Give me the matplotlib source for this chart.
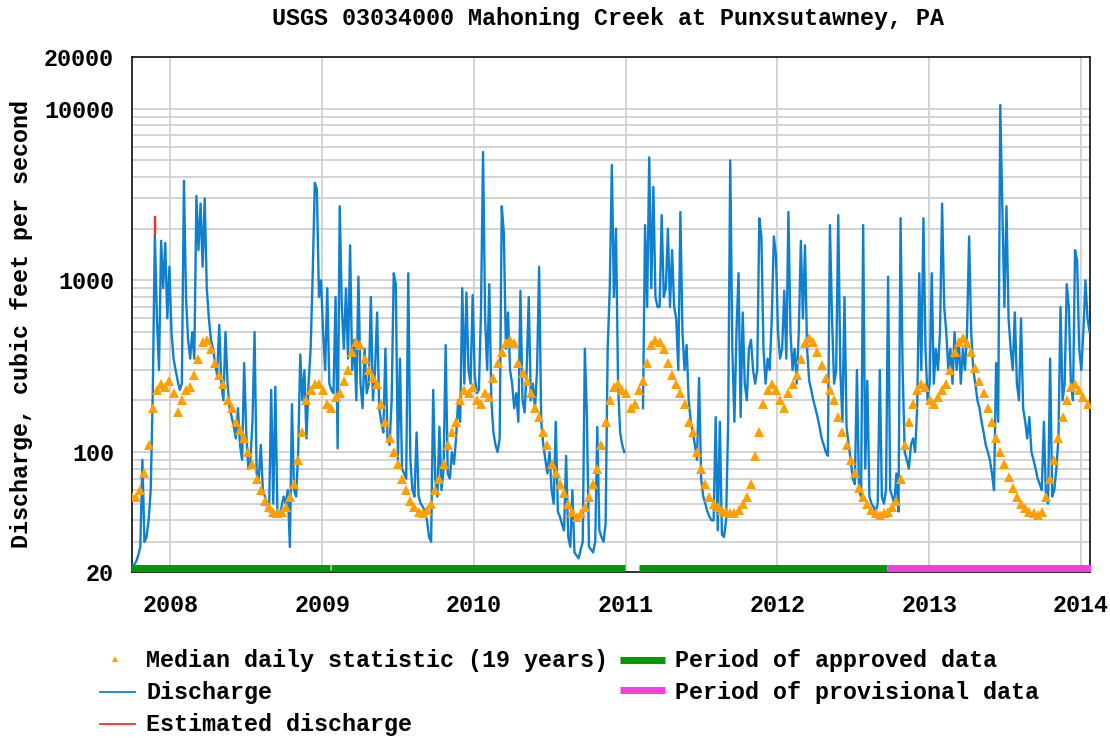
import numpy as np
import pandas as pd
import matplotlib
matplotlib.use('Agg')
import matplotlib.pyplot as plt
import matplotlib.dates as mdates
import matplotlib.ticker as mticker
import matplotlib.transforms as mtrans
from matplotlib.lines import Line2D

plt.rcParams['font.family'] = ['Liberation Mono', 'DejaVu Sans Mono']
plt.rcParams['font.weight'] = 'bold'
FS = 16.8

title = 'USGS 03034000 Mahoning Creek at Punxsutawney, PA'
ylabel = 'Discharge, cubic feet per second'
ytick_vals = [20, 100, 1000, 10000, 20000]

# daily discharge, read every 5 days from 2007-10-01 (nan = no data)
q_start = '2007-10-01'
nan = np.nan
discharge = [
    22, 22, 23, 25, 28, 90, 30, 32, 40, 60,
    220, 1850, 600, 300, 1700, 900, 1650, 600, 1200, 500,
    350, 300, 260, 230, 250, 3800, 800, 450, 350, 500,
    350, 3100, 1500, 2800, 1200, 3000, 900, 600, 450, 400,
    330, 280, 550, 250, 200, 500, 250, 180, 160, 140,
    120, 180, 110, 90, 330, 130, 80, 90, 150, 500,
    75, 70, 110, 60, 55, 50, 45, 230, 50, 240,
    45, 42, 48, 55, 50, 60, 28, 190, 60, 55,
    100, 370, 200, 300, 120, 250, 400, 1100, 3700, 3400,
    800, 1000, 500, 300, 900, 250, 230, 220, 800, 105,
    2700, 700, 400, 900, 350, 1600, 300, 450, 200, 1050,
    250, 180, 400, 220, 250, 800, 200, 300, 650, 180,
    150, 130, 400, 120, 110, 200, 1100, 950, 90, 350,
    80, 75, 70, 1100, 90, 60, 55, 130, 55, 50,
    48, 45, 40, 32, 30, 230, 70, 55, 140, 60,
    80, 420, 75, 70, 100, 85, 120, 200, 150, 900,
    250, 850, 300, 250, 820, 280, 220, 230, 650, 5600,
    600, 300, 950, 200, 130, 110, 100, 120, 2700, 1900,
    400, 650, 300, 250, 180, 220, 150, 870, 200, 170,
    300, 800, 200, 250, 180, 300, 1200, 150, 110, 90,
    75, 100, 60, 50, 150, 45, 42, 38, 35, 95,
    32, 28, 60, 26, 25, 24, 27, 30, 400, 160,
    28, 27, 26, 30, 140, 35, 32, 30, 38, 400,
    900, 4700, 800, 2000, 250, 130, 110, 100, nan, nan,
    nan, nan, nan, nan, nan, nan, 180, 2100, 700, 5200,
    900, 3500, 800, 700, 700, 2400, 800, 900, 2000, 700,
    1500, 700, 600, 300, 2500, 500, 300, 420, 200, 150,
    130, 110, 90, 270, 70, 55, 50, 45, 42, 40,
    40, 160, 35, 150, 33, 32, 40, 150, 5000, 400,
    150, 500, 1100, 160, 650, 250, 200, 400, 450, 300,
    250, 300, 2300, 1800, 400, 250, 350, 300, 600, 1800,
    1400, 500, 350, 400, 870, 350, 2500, 500, 300, 400,
    250, 500, 1700, 600, 1600, 400, 260, 230, 200, 180,
    160, 140, 120, 110, 100, 95, 2100, 600, 250, 300,
    2400, 300, 150, 800, 140, 110, 90, 70, 65, 300,
    60, 55, 2100, 80, 260, 55, 50, 48, 45, 50,
    300, 55, 50, 60, 1050, 60, 55, 50, 75, 45,
    2300, 300, 100, 90, 80, 110, 120, 100, 180, 1100,
    300, 2300, 400, 200, 250, 1100, 250, 400, 300, 500,
    2800, 700, 500, 300, 400, 250, 500, 300, 450, 250,
    400, 300, 500, 1800, 500, 300, 250, 200, 180, 150,
    130, 110, 100, 90, 75, 60, 330, 150, 10500, 2600,
    700, 2700, 600, 400, 300, 650, 250, 200, 600, 180,
    150, 120, 160, 100, 90, 80, 70, 65, 60, 150,
    55, 50, 350, 55, 60, 80, 120, 700, 200, 250,
    950, 700, 250, 200, 1500, 1300, 400, 300, 500, 1000,
    600, 500,
]

# median daily statistic, read every 10 days from 2007-10-01
median = [
    55, 55, 60, 75, 110, 180, 230, 250, 240, 260,
    220, 170, 200, 230, 240, 280, 350, 440, 450, 400,
    330, 280, 250, 200, 180, 150, 135, 120, 100, 85,
    70, 60, 52, 48, 45, 44, 45, 48, 55, 65,
    90, 130, 200, 230, 250, 250, 230, 190, 180, 210,
    220, 260, 300, 380, 440, 420, 350, 300, 270, 250,
    190, 150, 120, 100, 85, 70, 60, 52, 48, 45,
    44, 46, 50, 60, 70, 85, 110, 130, 150, 200,
    230, 220, 240, 200, 190, 220, 210, 270, 330, 380,
    430, 450, 430, 330, 290, 260, 220, 180, 160, 130,
    110, 85, 75, 65, 58, 50, 45, 42, 44, 48,
    55, 65, 80, 110, 150, 200, 240, 250, 230, 220,
    180, 190, 230, 260, 330, 420, 450, 440, 400, 330,
    280, 250, 220, 190, 150, 130, 100, 80, 65, 55,
    50, 48, 46, 45, 44, 44, 46, 50, 55, 65,
    95, 130, 190, 230, 250, 230, 200, 180, 220, 250,
    280, 350, 430, 460, 440, 380, 320, 270, 230, 200,
    160, 130, 110, 90, 75, 62, 55, 50, 46, 44,
    43, 44, 45, 48, 52, 70, 110, 150, 190, 230,
    250, 240, 200, 190, 210, 230, 250, 300, 380, 440,
    460, 430, 380, 310, 260, 220, 180, 150, 120, 100,
    85, 72, 62, 55, 50, 47, 45, 44, 43, 45,
    55, 70, 90, 120, 160, 200, 240, 250, 230, 210,
    190,
]

est_dates = ['2007-11-25', '2007-11-25']
est_q = [1850, 2350]

approved = [('2007-09-29', '2009-01-20'), ('2009-01-23', '2010-12-31'),
            ('2011-02-03', '2012-09-21')]
provisional = [('2012-09-21', '2014-01-25')]

BLUE = '#0f80cf'
ORANGE = '#ffa000'
RED = '#ff2a2a'
GREEN = '#009a00'
MAGENTA = '#f040e0'
GRID = '#d0d0d0'

q_dates = pd.date_range(q_start, periods=len(discharge), freq='5D')
m_dates = pd.date_range(q_start, periods=len(median), freq='10D')

W, H = 1110, 738
fig = plt.figure(figsize=(W / 100, H / 100), dpi=100)
ax = fig.add_axes([132 / W, 1 - 572 / H, (1090 - 132) / W, (572 - 57) / H])

ax.plot(q_dates, discharge, color=BLUE, lw=1.7, zorder=3)
ax.plot(m_dates, median, ls='none', marker='^', ms=6.5, mew=0,
        color=ORANGE, zorder=4)
ax.plot(pd.to_datetime(est_dates), est_q, color=RED, lw=1.7, zorder=5)

ax.set_yscale('log')
ax.set_ylim(20, 20000)
ax.set_xlim(pd.Timestamp('2007-10-01'), pd.Timestamp('2014-01-23'))

ax.yaxis.set_major_locator(mticker.FixedLocator(ytick_vals))
ax.yaxis.set_major_formatter(mticker.FuncFormatter(lambda v, p: '%d' % v))
ax.yaxis.set_minor_locator(mticker.LogLocator(base=10, subs=np.arange(2, 10)))
ax.yaxis.set_minor_formatter(mticker.NullFormatter())
ax.xaxis.set_major_locator(mdates.YearLocator())
ax.xaxis.set_major_formatter(mdates.DateFormatter('%Y'))

ax.grid(True, which='both', axis='y', color=GRID, lw=1.3, zorder=0)
ax.grid(True, which='major', axis='x', color=GRID, lw=1.3, zorder=0)
ax.set_axisbelow(True)
ax.tick_params(which='both', length=0)
ax.tick_params(axis='x', pad=16, labelsize=FS)
ax.tick_params(axis='y', pad=13, labelsize=FS)
for sp in ax.spines.values():
    sp.set_color('#202020')
    sp.set_linewidth(1.3)

# data-quality bars along the bottom
trans = mtrans.blended_transform_factory(ax.transData, ax.transAxes)
for s, e in approved:
    ax.plot(pd.to_datetime([s, e]), [0.007, 0.007], color=GREEN, lw=5,
            solid_capstyle='butt', transform=trans, clip_on=False, zorder=6)
for s, e in provisional:
    ax.plot(pd.to_datetime([s, e]), [0.007, 0.007], color=MAGENTA, lw=5,
            solid_capstyle='butt', transform=trans, clip_on=False, zorder=6)

fig.text(608 / W, 1 - 18 / H, title, ha='center', va='center', fontsize=FS)
fig.text(22 / W, 1 - 324 / H, ylabel, rotation=90, ha='center', va='center',
         fontsize=FS)

# legend
def fy(y):
    return 1 - y / H

fig.add_artist(Line2D([115 / W], [fy(659)], marker='^', ms=4.5, mew=0,
                      color=ORANGE, ls='none'))
fig.add_artist(Line2D([100 / W, 135 / W], [fy(692)] * 2, color=BLUE, lw=1.3))
fig.add_artist(Line2D([100 / W, 135 / W], [fy(724)] * 2, color=RED, lw=1.3))
fig.add_artist(Line2D([620 / W, 665 / W], [fy(660)] * 2, color=GREEN, lw=5,
                      solid_capstyle='butt'))
fig.add_artist(Line2D([620 / W, 665 / W], [fy(690)] * 2, color=MAGENTA, lw=5,
                      solid_capstyle='butt'))
for x, y, s in [(146, 661, 'Median daily statistic (19 years)'),
                (146, 692, 'Discharge'),
                (146, 724, 'Estimated discharge'),
                (675, 661, 'Period of approved data'),
                (675, 692, 'Period of provisional data')]:
    fig.text(x / W, fy(y), s, ha='left', va='center', fontsize=FS)

fig.savefig('out.png', dpi=100, facecolor='white')
